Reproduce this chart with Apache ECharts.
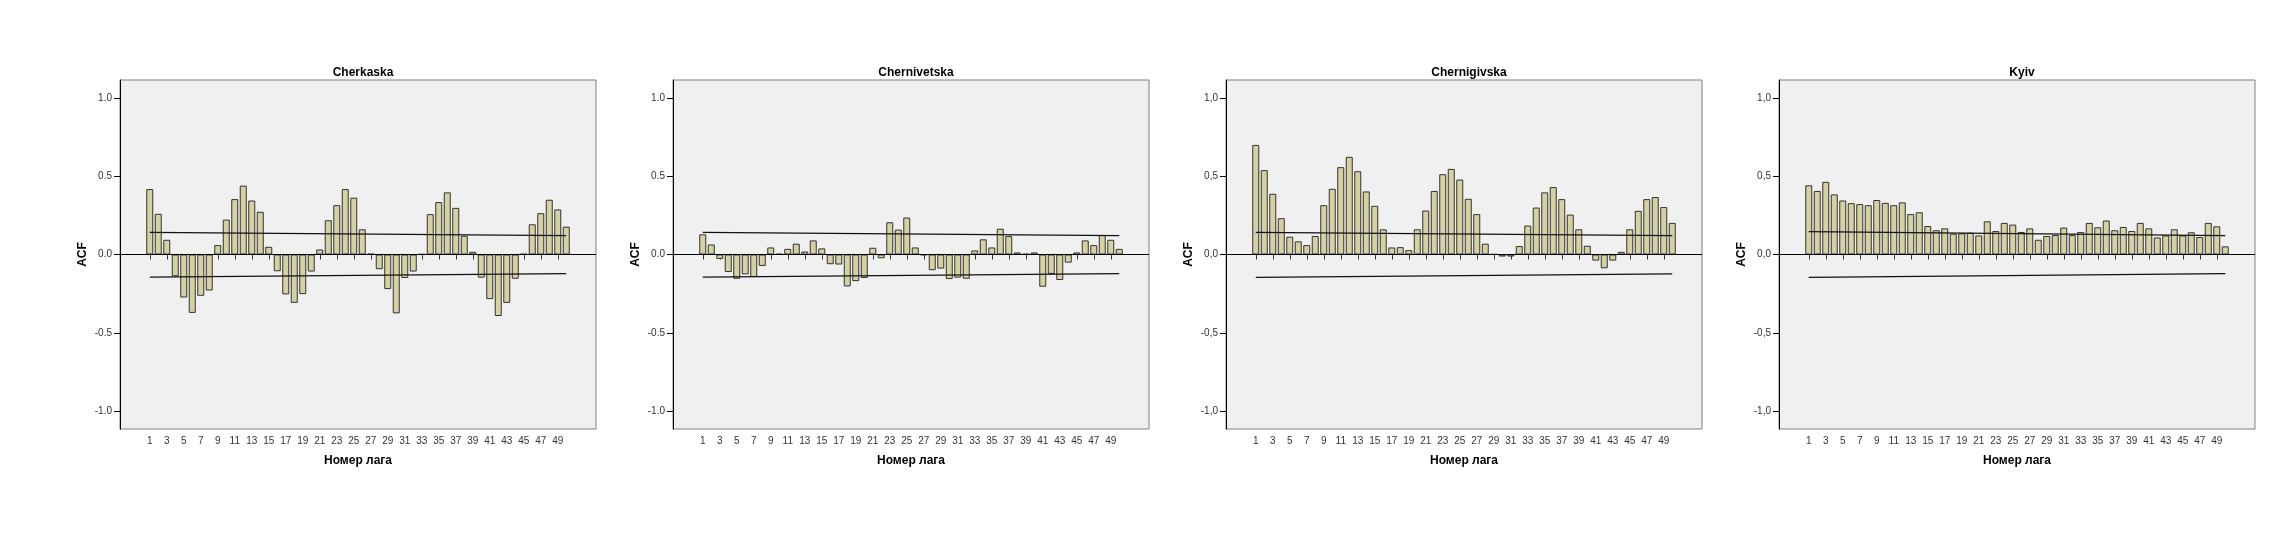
<!DOCTYPE html>
<html>
<head>
<meta charset="utf-8">
<script src="https://cdn.jsdelivr.net/npm/echarts@6/dist/echarts.min.js"></script>
<style>
  html, body { margin: 0; padding: 0; background: #fff; }
  #main { width: 2294px; height: 556px; }
</style>
</head>
<body>
<div id="main"></div>
<script>
// lag numbers and the region names
var lags = [];
for (var k = 1; k <= 50; k++) lags.push(k);
var regions = ['Cherkaska', 'Chernivetska', 'Chernigivska', 'Kyiv'];
var decimalSep = ['.', '.', ',', ','];

// ACF values, lags 1..50
var cherkaska = [0.418,0.26,0.094,-0.139,-0.275,-0.373,-0.264,-0.23,0.06,0.223,
  0.354,0.44,0.345,0.273,0.049,-0.107,-0.255,-0.309,-0.253,-0.109,
  0.032,0.219,0.315,0.418,0.363,0.161,0.005,-0.094,-0.221,-0.376,
  -0.15,-0.109,0.002,0.258,0.335,0.397,0.298,0.12,0.017,-0.148,
  -0.285,-0.393,-0.309,-0.155,0.004,0.193,0.264,0.35,0.288,0.178];
var chernivetska = [0.129,0.064,-0.028,-0.112,-0.155,-0.127,-0.144,-0.073,0.045,0.004,
  0.036,0.069,0.019,0.09,0.039,-0.062,-0.064,-0.204,-0.17,-0.15,
  0.043,-0.024,0.206,0.159,0.236,0.045,-0.004,-0.1,-0.09,-0.157,
  -0.148,-0.155,0.026,0.097,0.045,0.165,0.118,0.013,0.004,0.013,
  -0.206,-0.124,-0.163,-0.052,0.013,0.09,0.06,0.124,0.094,0.036];
var chernigivska = [0.70,0.539,0.388,0.232,0.114,0.084,0.06,0.118,0.315,0.42,
  0.558,0.624,0.532,0.403,0.311,0.161,0.045,0.047,0.028,0.161,
  0.281,0.406,0.513,0.547,0.479,0.356,0.258,0.069,0.002,-0.013,
  -0.013,0.054,0.185,0.30,0.397,0.431,0.354,0.255,0.161,0.056,
  -0.039,-0.088,-0.039,0.017,0.161,0.279,0.354,0.367,0.303,0.202];
var kyiv = [0.442,0.406,0.464,0.384,0.345,0.328,0.322,0.315,0.348,0.33,
  0.315,0.333,0.258,0.27,0.182,0.155,0.167,0.133,0.135,0.139,
  0.122,0.212,0.15,0.202,0.191,0.144,0.167,0.094,0.118,0.124,
  0.172,0.124,0.144,0.202,0.174,0.217,0.155,0.176,0.15,0.202,
  0.167,0.109,0.122,0.161,0.122,0.142,0.112,0.202,0.18,0.052];
var acf = [cherkaska, chernivetska, chernigivska, kyiv];

// confidence limits at the first and the last lag
var confLags = [1, 50];
var upperLimit = [[0.142, 0.120], [0.142, 0.120], [0.142, 0.120], [0.146, 0.120]];
var lowerLimit = [[-0.144, -0.122], [-0.144, -0.122], [-0.146, -0.124], [-0.146, -0.122]];

var yTicks = [-1, -0.5, 0, 0.5, 1];

// a few empty slots either side, as in the picture
var xCats = [];
for (var c = -2; c <= 53; c++) xCats.push(String(c));

function showLag(idx, val) {
  var n = Number(val);
  return n >= 1 && n <= 49 && n % 2 === 1;
}

var font = 'Liberation Sans, Arial, sans-serif';
var myChart = echarts.init(document.getElementById('main'));

var grid = [], xAxis = [], yAxis = [], series = [], title = [];
regions.forEach(function (name, i) {
  var left = 120 + 553 * i;
  grid.push({
    left: left, top: 80, width: 476, height: 349,
    show: true, backgroundColor: '#f0f0f0', borderColor: '#808080', borderWidth: 1
  });
  title.push({
    text: name, left: left + 238, top: 62, textAlign: 'center',
    textStyle: { fontFamily: font, fontSize: 12, fontWeight: 'bold', color: '#000' }
  });
  xAxis.push({
    type: 'category', gridIndex: i, data: xCats, boundaryGap: true,
    name: 'Номер лага', nameLocation: 'middle', nameGap: 26,
    nameTextStyle: { fontFamily: font, fontSize: 12, fontWeight: 'bold', color: '#000' },
    axisLine: { show: false },
    axisTick: { show: true, interval: showLag, alignWithLabel: true, length: 5,
      lineStyle: { color: '#333' } },
    axisLabel: { interval: showLag, fontFamily: font, fontSize: 10, color: '#333', margin: 7 },
    splitLine: { show: false }
  });
  var sep = decimalSep[i];
  yAxis.push({
    type: 'value', gridIndex: i, min: -1.115, max: 1.115,
    name: 'ACF', nameLocation: 'middle', nameGap: 31, nameRotate: 90,
    nameTextStyle: { fontFamily: font, fontSize: 12, fontWeight: 'bold', color: '#000' },
    axisLine: { show: true, lineStyle: { color: '#000', width: 1 } },
    axisTick: { show: true, length: 6, customValues: yTicks, lineStyle: { color: '#000' } },
    axisLabel: {
      customValues: yTicks, fontFamily: font, fontSize: 10, color: '#333', margin: 8,
      formatter: function (v) { return v.toFixed(1).replace('.', sep); }
    },
    splitLine: { show: false }
  });
  series.push({
    type: 'bar', xAxisIndex: i, yAxisIndex: i, barWidth: 7,
    data: lags.map(function (l, j) { return [String(l), acf[i][j]]; }),
    itemStyle: { color: '#d6d1a0', borderColor: '#333', borderWidth: 1 },
    markLine: {
      silent: true, symbol: 'none', label: { show: false },
      lineStyle: { color: '#000', width: 1.2, type: 'solid' },
      data: [{ yAxis: 0 }]
    },
    animation: false
  });
  [upperLimit[i], lowerLimit[i]].forEach(function (lim) {
    series.push({
      type: 'line', xAxisIndex: i, yAxisIndex: i, symbol: 'none', silent: true,
      data: confLags.map(function (l, j) { return [String(l), lim[j]]; }),
      lineStyle: { color: '#111', width: 1.3 },
      z: 3, animation: false
    });
  });
});

myChart.setOption({
  animation: false,
  title: title,
  grid: grid,
  xAxis: xAxis,
  yAxis: yAxis,
  series: series
});
</script>
</body>
</html>
